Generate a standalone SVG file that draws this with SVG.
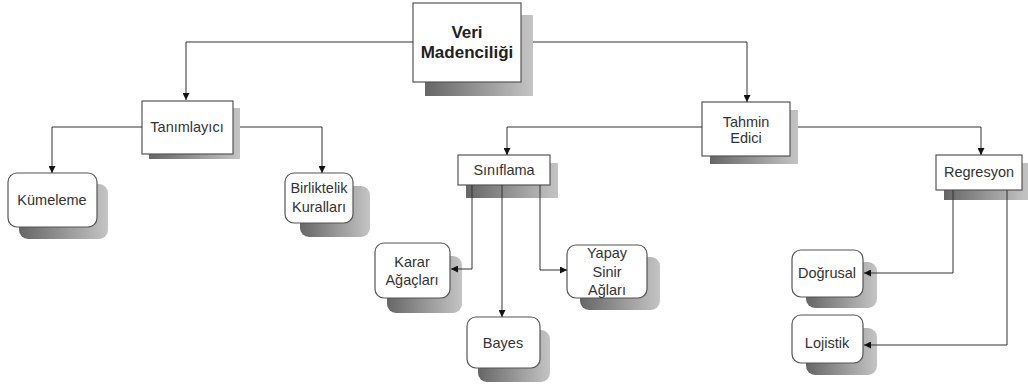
<svg xmlns="http://www.w3.org/2000/svg" width="1028" height="387" viewBox="0 0 1028 387">
<style>
.box{fill:#fff;stroke:#555;stroke-width:1.2}
.sh{fill:url(#g)}
.t{font-family:"Liberation Sans",Arial,sans-serif;font-size:14.5px;fill:#333;text-anchor:middle}
.tb{font-family:"Liberation Sans",Arial,sans-serif;font-size:17px;font-weight:bold;fill:#222;text-anchor:middle}
.c{fill:none;stroke:#333;stroke-width:1}
</style>
<defs>
<linearGradient id="g" x1="0" y1="0" x2="1" y2="0">
<stop offset="0" stop-color="#666"/>
<stop offset="1" stop-color="#c4c4c4"/>
</linearGradient>
<marker id="a" viewBox="0 0 10 10" refX="10" refY="5" markerWidth="7" markerHeight="7" orient="auto" markerUnits="userSpaceOnUse">
<path d="M0,0 L10,5 L0,10 z" fill="#111"/>
</marker>
</defs>
<rect width="1028" height="387" fill="#fff"/>
<g id="veri">
<rect class="sh" x="425" y="15" width="108" height="81"/>
<rect class="box" x="413" y="3" width="108" height="79"/>
<text class="tb" x="467" y="38">Veri</text>
<text class="tb" x="467" y="58">Madenciliği</text>
</g>
<g id="tanimlayici">
<rect class="sh" x="149" y="108" width="91" height="51"/>
<rect class="box" x="142" y="101" width="91" height="53"/>
<text class="t" x="187" y="132">Tanımlayıcı</text>
</g>
<g id="kumeleme">
<rect class="sh" x="19" y="184" width="89" height="55" rx="9"/>
<rect class="box" x="8" y="173" width="89" height="54" rx="9"/>
<text class="t" x="52" y="205">Kümeleme</text>
</g>
<g id="birliktelik">
<rect class="sh" x="300" y="186" width="70" height="51" rx="9"/>
<rect class="box" x="285" y="173" width="68" height="50" rx="9"/>
<text class="t" x="319" y="193">Birliktelik</text>
<text class="t" x="319" y="212">Kuralları</text>
</g>
<g id="tahmin">
<rect class="sh" x="710" y="110" width="88" height="54"/>
<rect class="box" x="702" y="102" width="88" height="54"/>
<text class="t" x="746" y="127">Tahmin</text>
<text class="t" x="746" y="143">Edici</text>
</g>
<g id="siniflama">
<rect class="sh" x="466" y="163" width="92" height="35"/>
<rect class="box" x="458" y="155" width="92" height="30"/>
<text class="t" x="504" y="175">Sınıflama</text>
</g>
<g id="regresyon">
<rect class="sh" x="944" y="163" width="84" height="37"/>
<rect class="box" x="936" y="155" width="86" height="35"/>
<text class="t" x="979" y="177">Regresyon</text>
</g>
<g id="karar">
<rect class="sh" x="387" y="256" width="75" height="57" rx="9"/>
<rect class="box" x="375" y="243" width="75" height="55" rx="9"/>
<text class="t" x="412" y="267">Karar</text>
<text class="t" x="412" y="285">Ağaçları</text>
</g>
<g id="yapay">
<rect class="sh" x="580" y="257" width="80" height="53" rx="9"/>
<rect class="box" x="567" y="245" width="80" height="53" rx="9"/>
<text class="t" x="607" y="258">Yapay</text>
<text class="t" x="607" y="277">Sinir</text>
<text class="t" x="607" y="295">Ağları</text>
</g>
<g id="bayes">
<rect class="sh" x="478" y="330" width="72" height="52" rx="9"/>
<rect class="box" x="467" y="317" width="73" height="51" rx="9"/>
<text class="t" x="503" y="348">Bayes</text>
</g>
<g id="dogrusal">
<rect class="sh" x="806" y="262" width="71" height="46" rx="9"/>
<rect class="box" x="792" y="250" width="71" height="47" rx="9"/>
<text class="t" x="827" y="278">Doğrusal</text>
</g>
<g id="lojistik">
<rect class="sh" x="806" y="328" width="71" height="47" rx="9"/>
<rect class="box" x="792" y="315" width="71" height="48" rx="9"/>
<text class="t" x="827" y="348">Lojistik</text>
</g>
<g id="connectors">
<path class="c" d="M413,42 H186 V100" marker-end="url(#a)"/>
<path class="c" d="M533,42 H747 V102" marker-end="url(#a)"/>
<path class="c" d="M142,127 H52 V173" marker-end="url(#a)"/>
<path class="c" d="M240,127 H322 V173" marker-end="url(#a)"/>
<path class="c" d="M702,127 H507 V155" marker-end="url(#a)"/>
<path class="c" d="M798,127 H981 V155" marker-end="url(#a)"/>
<path class="c" d="M472,185 V269 H451" marker-end="url(#a)"/>
<path class="c" d="M502,185 V317" marker-end="url(#a)"/>
<path class="c" d="M540,185 V270 H567" marker-end="url(#a)"/>
<path class="c" d="M953,190 V273 H864" marker-end="url(#a)"/>
<path class="c" d="M1007,190 V345 H864" marker-end="url(#a)"/>
</g>
</svg>
